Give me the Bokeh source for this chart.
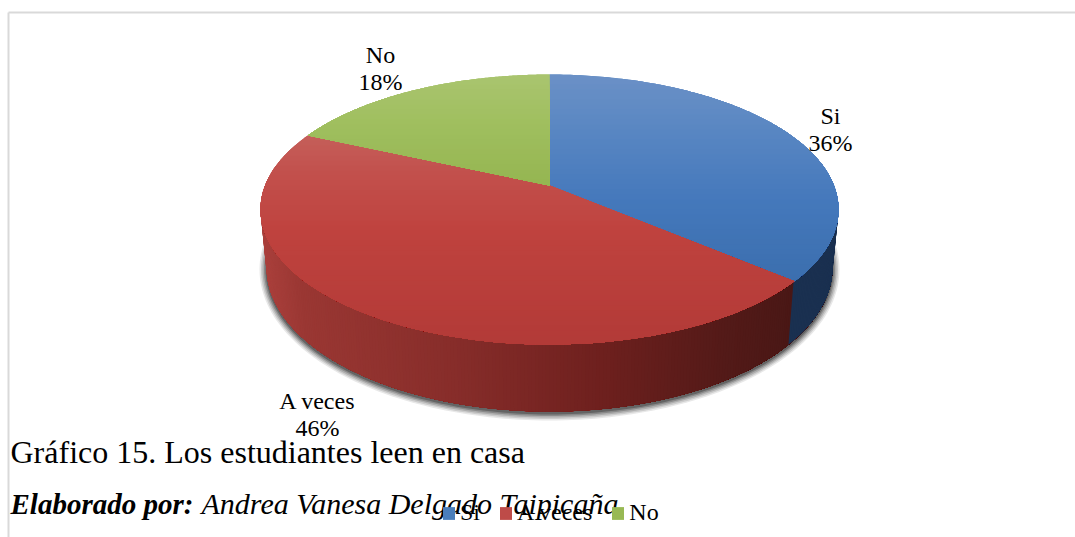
import math
from bokeh.embed import file_html
from bokeh.resources import INLINE
from bokeh.plotting import figure
from bokeh.models import Legend, LegendItem
from bokeh.core.properties import value

categories = ["Si", "A veces", "No"]
values = [36, 46, 18]
labels = ["36%", "46%", "18%"]
base_colors = ["#4a7ebb", "#be4b48", "#98b954"]
title_text = "Gráfico 15. Los estudiantes leen en casa"
credit_bold = "Elaborado por:"
credit_text = "Andrea Vanesa Delgado Taipicaña."

FONT = value("Liberation Serif")
W, H = 1075, 537
CX, CY, RX, RY = 549, 209, 289, 135
APEX_Y = 185
BY, BRX, BRY = 267, 283, 144
E = -0.16

p = figure(width=W, height=H, x_range=(0, W), y_range=(H, 0),
           toolbar_location=None, output_backend="svg", min_border=0,
           outline_line_color=None, background_fill_color="white",
           border_fill_color="white")
p.axis.visible = False
p.grid.visible = False


def hexrgb(c):
    return tuple(int(c[i:i + 2], 16) for i in (1, 3, 5))


def ramp(stops, t):
    if t <= stops[0][0]:
        return stops[0][1]
    for (a, ca), (b, cb) in zip(stops, stops[1:]):
        if t <= b:
            f = (t - a) / (b - a)
            ra, rb = hexrgb(ca), hexrgb(cb)
            return "#%02x%02x%02x" % tuple(round(x + (y - x) * f) for x, y in zip(ra, rb))
    return stops[-1][1]


def unit_point(frac):
    """Value fraction clockwise from 12 o'clock -> point on the unit circle seen in perspective."""
    th = 2 * math.pi * frac
    x, y = math.sin(th), -math.cos(th)
    d = 1 + E * y
    return x * math.sqrt(1 - E * E) / d, (y + E) / d


def clip_below(poly, y0):
    out = []
    for i, (x1, y1) in enumerate(poly):
        x2, y2 = poly[(i + 1) % len(poly)]
        if y1 >= y0:
            out.append((x1, y1))
        if (y1 >= y0) != (y2 >= y0):
            f = (y0 - y1) / (y2 - y1)
            out.append((x1 + (x2 - x1) * f, y0))
    return out


total = sum(values)
starts, c = [], 0
for v in values:
    starts.append(c / total)
    c += v
ends = starts[1:] + [1.0]

# shadow below the wall
for g, a in ((7, .10), (5.5, .14), (4, .18), (2.5, .25), (1, .35)):
    xs, ys = [], []
    for k in range(241):
        t = 2 * math.pi * k / 240
        xs.append(CX + (BRX + g) * math.cos(t))
        ys.append(BY + 2 + (BRY + g) * math.sin(t))
    p.patch(xs, ys, fill_color="#202020", fill_alpha=a, line_color=None)

# side wall, front half only
wall_stops = [
    [(0, "#1a3050"), (1, "#1a3050")],
    [(261, "#aa403c"), (300, "#9a3733"), (450, "#872d2a"), (600, "#6e201e"),
     (720, "#541a18"), (800, "#481715")],
    [(0, "#7a8f45"), (1, "#7a8f45")],
]
N = 250
sx, sy = unit_point(ends[0])
for i in range(N):
    a0 = math.pi * (1 - i / N)
    ux = math.cos(a0 - math.pi / N / 2)
    idx = 0 if ux > sx else 1
    # each strip reaches to the right edge, so that later strips overlap it without seams
    xs, ys = [], []
    m = 1 + int(60 * a0 / math.pi)
    for k in range(m + 1):
        a = a0 * (1 - k / m)
        xs.append(CX + RX * math.cos(a))
        ys.append(CY + RY * math.sin(a))
    for k in range(m, -1, -1):
        a = a0 * (1 - k / m)
        xs.append(CX + BRX * math.cos(a))
        ys.append(BY + BRY * math.sin(a))
    col = ramp(wall_stops[idx], CX + RX * math.cos(a0))
    p.patch(xs, ys, fill_color=col, line_color=None)

# top faces with vertical shading
face_stops = [
    [(75, "#6a90c6"), (130, "#5886c2"), (200, "#4478bb"), (290, "#3a6dac")],
    [(130, "#c5605b"), (170, "#c2504c"), (230, "#bf423e"), (345, "#b23a37")],
    [(75, "#a9c46e"), (120, "#a0bf5f"), (190, "#93b44f")],
]
base_renderers = []
for i in range(len(values)):
    n = 160
    poly = [(CX, APEX_Y)]
    for k in range(n + 1):
        ux, uy = unit_point(starts[i] + (ends[i] - starts[i]) * k / n)
        poly.append((CX + RX * ux, CY + RY * uy))
    r = p.patch([q[0] for q in poly], [q[1] for q in poly],
                fill_color=base_colors[i], line_color=None)
    base_renderers.append(r)
    ytop = min(q[1] for q in poly)
    ybot = max(q[1] for q in poly)
    y = ytop
    while y < ybot:
        band = clip_below(poly, y)
        if len(band) > 2:
            p.patch([q[0] for q in band], [q[1] for q in band],
                    fill_color=ramp(face_stops[i], y), line_color=None)
        y += 5

# frame lines
p.segment(x0=[8, 8], y0=[12, 12], x1=[W, 8], y1=[12, H],
          line_color="#d9d9d9", line_width=2)

# slice labels
label_xy = [(830, 115), (317, 400), (380, 54)]
for i, (lx, ly) in enumerate(label_xy):
    p.text(x=[lx, lx], y=[ly, ly + 27.5], text=[categories[i], labels[i]],
           text_font=FONT, text_font_size="24px", text_color="#000000",
           text_align="center", text_baseline="middle")

# captions
p.text(x=[10], y=[451], text=[title_text], text_font=FONT, text_font_size="32px",
       text_color="#000000", text_baseline="alphabetic")
p.text(x=[10], y=[503], text=[credit_bold], text_font=FONT, text_font_size="29px",
       text_font_style="bold italic", text_color="#000000", text_baseline="alphabetic")
p.text(x=[201], y=[503], text=[credit_text], text_font=FONT, text_font_size="30px",
       text_font_style="italic", text_color="#000000", text_baseline="alphabetic")

legend = Legend(
    items=[LegendItem(label=categories[i], renderers=[base_renderers[i]]) for i in range(3)],
    orientation="horizontal", location=(441, 11), background_fill_alpha=0,
    border_line_color=None, label_text_font="Liberation Serif",
    label_text_font_size="24px", label_text_color="#000000",
    glyph_width=15, glyph_height=16, spacing=18, label_standoff=4,
    padding=0, margin=0,
)
p.add_layout(legend, "center")

open("out.html", "w").write(file_html(p, INLINE))
